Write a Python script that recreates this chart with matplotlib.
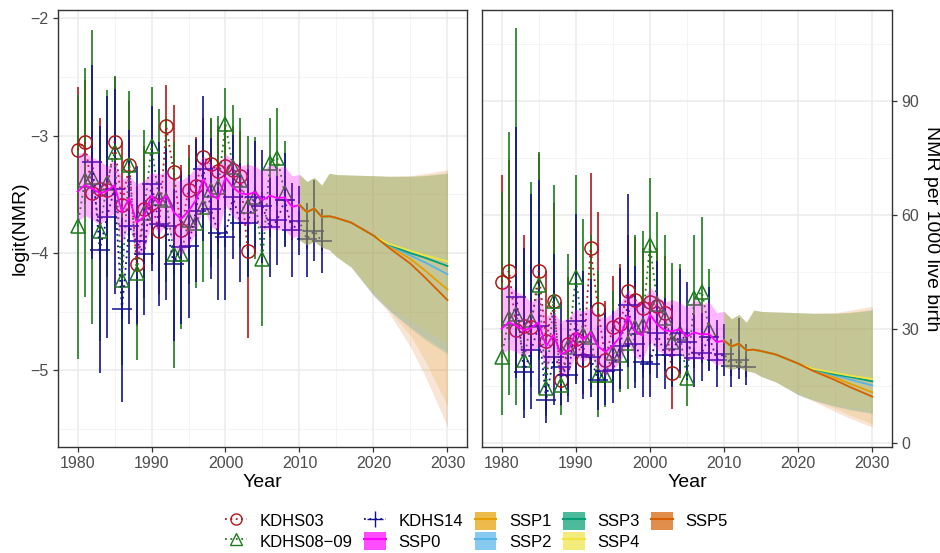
import matplotlib
matplotlib.use("Agg")
import matplotlib.pyplot as plt
import numpy as np
from matplotlib.lines import Line2D
from matplotlib.patches import Patch

plt.rcParams['font.family'] = ['Liberation Sans', 'DejaVu Sans']

# ---- survey estimates (logit scale) ----
years_03 = list(range(1980, 2004))
est_03 = [-3.12, -3.05, -3.49, -3.45, -3.46, -3.05, -3.59, -3.25, -4.09, -3.62, -3.57, -3.81,
          -2.92, -3.31, -3.80, -3.46, -3.43, -3.18, -3.24, -3.30, -3.26, -3.29, -3.34, -3.98]
lo_03 = [-3.66, -3.58, -4.02, -4.05, -4.00, -3.60, -4.13, -3.80, -4.62, -4.15, -4.09, -4.35,
         -3.30, -3.88, -4.35, -3.84, -3.85, -3.51, -3.62, -3.68, -3.62, -3.66, -3.72, -4.72]
hi_03 = [-2.58, -2.52, -2.96, -2.85, -2.92, -2.50, -3.05, -2.70, -3.56, -3.09, -3.05, -3.27,
         -2.57, -2.74, -3.25, -3.08, -3.01, -2.85, -2.86, -2.92, -2.90, -2.92, -2.96, -3.24]

years_0809 = list(range(1980, 2009))
est_0809 = [-3.77, -3.38, -3.35, -3.81, -3.40, -3.14, -4.23, -3.25, -4.17, -3.66, -3.085, -3.53,
            -3.55, -4.01, -4.01, -3.72, -3.74, -3.61, -3.46, -3.44, -2.90, -3.27, -3.38, -3.60,
            -3.52, -4.05, -3.23, -3.185, -3.49]
lo_0809 = [-4.90, -4.37, -4.60, -4.75, -4.20, -3.80, -4.95, -3.90, -4.91, -4.38, -3.60, -4.29,
           -4.25, -4.98, -4.65, -4.26, -4.30, -4.25, -4.12, -4.05, -3.25, -3.80, -3.95, -4.20,
           -4.05, -4.62, -3.62, -3.60, -3.94]
hi_0809 = [-2.65, -2.42, -2.10, -2.95, -2.61, -2.49, -3.50, -2.62, -3.43, -2.95, -2.58, -2.77,
           -2.85, -3.05, -3.37, -3.18, -3.15, -2.97, -2.85, -2.83, -2.59, -2.74, -2.85, -3.00,
           -3.01, -3.48, -2.85, -2.76, -3.04]

years_14 = list(range(1982, 2014))
est_14 = [-3.22, -3.97, -3.69, -3.45, -4.48, -3.77, -3.90, -4.01, -3.41, -3.75, -3.77, -4.09,
          -3.95, -3.94, -3.64, -3.28, -3.62, -3.83, -3.86, -3.52, -3.74, -3.74, -3.52, -3.60,
          -3.78, -3.72, -3.55, -3.80, -3.73, -3.88, -3.81, -3.90]
lo_14 = [-4.05, -5.02, -4.72, -4.35, -5.27, -4.60, -4.60, -4.53, -4.15, -4.45, -4.40, -4.75,
         -4.60, -4.55, -4.25, -3.90, -4.22, -4.40, -4.40, -4.05, -4.25, -4.20, -4.00, -4.08,
         -4.20, -4.10, -3.95, -4.20, -4.02, -4.20, -4.07, -4.17]
hi_14 = [-2.40, -2.92, -2.66, -2.60, -3.70, -2.95, -3.26, -3.40, -2.75, -3.05, -3.10, -3.45,
         -3.30, -3.33, -3.03, -2.66, -3.02, -3.26, -3.30, -2.99, -3.23, -3.28, -3.04, -3.12,
         -3.36, -3.34, -3.15, -3.40, -3.43, -3.57, -3.38, -3.62]

# ---- SSP0 model estimate ----
years_ssp0 = list(range(1980, 2011))
ssp0 = [-3.475, -3.42, -3.45, -3.49, -3.47, -3.42, -3.65, -3.53, -3.74, -3.69, -3.51, -3.58,
        -3.51, -3.65, -3.71, -3.64, -3.55, -3.37, -3.50, -3.54, -3.355, -3.44, -3.49, -3.50,
        -3.48, -3.55, -3.51, -3.53, -3.525, -3.605, -3.59]
ssp0_hi = [-3.15, -3.14, -3.185, -3.21, -3.26, -3.21, -3.37, -3.34, -3.41, -3.38, -3.31, -3.33,
           -3.30, -3.37, -3.38, -3.34, -3.27, -3.17, -3.24, -3.27, -3.15, -3.21, -3.26, -3.24,
           -3.26, -3.30, -3.24, -3.27, -3.26, -3.34, -3.33]
ssp0_lo = [-3.73, -3.68, -3.71, -3.76, -3.70, -3.66, -3.92, -3.75, -4.04, -3.98, -3.74, -3.84,
           -3.75, -3.93, -4.02, -3.93, -3.83, -3.60, -3.77, -3.81, -3.59, -3.69, -3.74, -3.77,
           -3.72, -3.81, -3.79, -3.80, -3.80, -3.87, -3.85]

# ---- SSP projections ----
years_proj = [2010, 2011, 2012, 2013, 2014, 2015, 2017, 2020, 2022, 2025, 2027, 2030]
ssp_names = ["SSP1", "SSP2", "SSP3", "SSP4", "SSP5"]
ssp_colors = ["#E69F00", "#56B4E9", "#009E73", "#F0E442", "#D55E00"]
ssp_mid = [
    [-3.59, -3.65, -3.62, -3.69, -3.685, -3.70, -3.74, -3.85, -3.935, -4.05, -4.15, -4.31],
    [-3.59, -3.65, -3.62, -3.69, -3.685, -3.70, -3.74, -3.85, -3.93, -4.02, -4.08, -4.18],
    [-3.59, -3.65, -3.62, -3.69, -3.685, -3.70, -3.74, -3.85, -3.925, -4.00, -4.04, -4.11],
    [-3.59, -3.65, -3.62, -3.69, -3.685, -3.70, -3.74, -3.85, -3.92, -3.98, -4.02, -4.07],
    [-3.59, -3.65, -3.62, -3.69, -3.685, -3.70, -3.74, -3.85, -3.95, -4.09, -4.21, -4.40],
]
ssp_lo = [
    [-3.89, -3.93, -3.90, -3.95, -3.97, -4.03, -4.12, -4.35, -4.48, -4.70, -4.92, -5.30],
    [-3.89, -3.93, -3.90, -3.95, -3.97, -4.03, -4.12, -4.36, -4.48, -4.63, -4.72, -4.84],
    [-3.89, -3.93, -3.90, -3.95, -3.97, -4.03, -4.12, -4.36, -4.48, -4.64, -4.74, -4.86],
    [-3.89, -3.93, -3.90, -3.95, -3.97, -4.03, -4.12, -4.33, -4.45, -4.58, -4.66, -4.77],
    [-3.89, -3.93, -3.90, -3.95, -3.97, -4.03, -4.12, -4.36, -4.50, -4.80, -5.05, -5.48],
]
ssp_hi = [
    [-3.33, -3.39, -3.355, -3.42, -3.32, -3.33, -3.335, -3.34, -3.345, -3.345, -3.335, -3.31],
    [-3.33, -3.39, -3.355, -3.42, -3.32, -3.33, -3.335, -3.34, -3.345, -3.345, -3.34, -3.32],
    [-3.33, -3.39, -3.355, -3.42, -3.32, -3.33, -3.335, -3.34, -3.345, -3.345, -3.34, -3.32],
    [-3.33, -3.39, -3.355, -3.42, -3.32, -3.33, -3.335, -3.34, -3.345, -3.345, -3.34, -3.33],
    [-3.33, -3.39, -3.355, -3.42, -3.32, -3.33, -3.335, -3.34, -3.345, -3.34, -3.32, -3.29],
]

col_03 = "#B01818"
col_0809 = "#1C7A1C"
col_14 = "#12128F"
col_ssp0 = "#FF00FF"


def logit_id(v):
    return np.asarray(v, dtype=float)


def to_nmr(v):
    return 1000.0 / (1.0 + np.exp(-np.asarray(v, dtype=float)))


def draw(ax, tf):
    surveys = [
        (years_03, est_03, lo_03, hi_03, col_03, "o", 9.5),
        (years_0809, est_0809, lo_0809, hi_0809, col_0809, "^", 10.5),
        (years_14, est_14, lo_14, hi_14, col_14, "+", 15),
    ]
    for yrs, est, lo, hi, c, m, ms in surveys:
        ax.vlines(yrs, tf(lo), tf(hi), color=c, lw=1.4, alpha=0.85, zorder=2)
    for yrs, est, lo, hi, c, m, ms in surveys:
        ax.plot(yrs, tf(est), ls=(0, (1, 2.2)), color=c, lw=1.3, zorder=3)
        ax.plot(yrs, tf(est), ls="none", marker=m, ms=ms, mfc="none", mec=c,
                mew=1.1, zorder=3)

    ax.fill_between(years_ssp0, tf(ssp0_lo), tf(ssp0_hi), color=col_ssp0,
                    alpha=0.28, lw=0, zorder=4)
    for i in range(len(ssp_names)):
        ax.fill_between(years_proj, tf(ssp_lo[i]), tf(ssp_hi[i]), color=ssp_colors[i],
                        alpha=0.16, lw=0, zorder=4)
    ax.plot(years_ssp0, tf(ssp0), color=col_ssp0, lw=1.3, zorder=5)
    for i in range(len(ssp_names)):
        ax.plot(years_proj, tf(ssp_mid[i]), color=ssp_colors[i], lw=1.3, zorder=5)

    ax.set_xlim(1977.4, 2032.6)
    ax.set_xticks([1980, 1990, 2000, 2010, 2020, 2030])
    ax.set_xticks([1985, 1995, 2005, 2015, 2025], minor=True)
    ax.grid(which="major", color="#EBEBEB", lw=1.1)
    ax.grid(which="minor", color="#F2F2F2", lw=0.6)
    ax.set_axisbelow(True)
    for s in ax.spines.values():
        s.set_color("#333333")
        s.set_linewidth(1.0)
    ax.tick_params(which="major", direction="out", length=3.5, width=0.9,
                   color="#333333", labelcolor="#4D4D4D", labelsize=11.5)
    ax.tick_params(which="minor", length=0)
    ax.set_xlabel("Year", fontsize=14, labelpad=2)


fig = plt.figure(figsize=(9.4, 5.53), dpi=100)
axL = fig.add_axes([0.062, 0.1922, 0.4345, 0.7892])
axR = fig.add_axes([0.5131, 0.1922, 0.4355, 0.7892])

draw(axL, logit_id)
axL.set_ylim(-5.65, -1.93)
axL.set_yticks([-5, -4, -3, -2])
axL.set_yticks([-5.5, -4.5, -3.5, -2.5], minor=True)
axL.set_ylabel("logit(NMR)", fontsize=14, labelpad=1)

draw(axR, to_nmr)
axR.set_ylim(-1.05, 113.8)
axR.set_yticks([0, 30, 60, 90])
axR.set_yticks([15, 45, 75, 105], minor=True)
axR.yaxis.tick_right()
axR.yaxis.set_label_position("right")
axR.tick_params(axis="y", which="both", left=False)
axR.set_ylabel("NMR per 1000 live birth", fontsize=14, rotation=270, labelpad=15)

# ---- legend ----
handles = [
    Line2D([], [], color=col_03, ls=(0, (1, 2)), marker="o", ms=8, mfc="none", lw=1.3),
    Line2D([], [], color=col_0809, ls=(0, (1, 2)), marker="^", ms=8.5, mfc="none", lw=1.3),
    Line2D([], [], color=col_14, ls=(0, (1, 2)), marker="+", ms=12, lw=1.3),
    (Patch(facecolor=col_ssp0, alpha=0.7, lw=0), Line2D([], [], color=col_ssp0, lw=1.5)),
]
labels = ["KDHS03", "KDHS08\u221209", "KDHS14", "SSP0"]
for name, c in zip(ssp_names, ssp_colors):
    handles.append((Patch(facecolor=c, alpha=0.7, lw=0), Line2D([], [], color=c, lw=1.5)))
    labels.append(name)

fig.legend(handles, labels, loc="center", bbox_to_anchor=(0.507, 0.04), ncol=5,
           frameon=False, fontsize=12, handlelength=1.3, handleheight=1.25,
           handletextpad=0.75, columnspacing=0.7, labelspacing=0.15)

fig.savefig("out.png", dpi=100)
